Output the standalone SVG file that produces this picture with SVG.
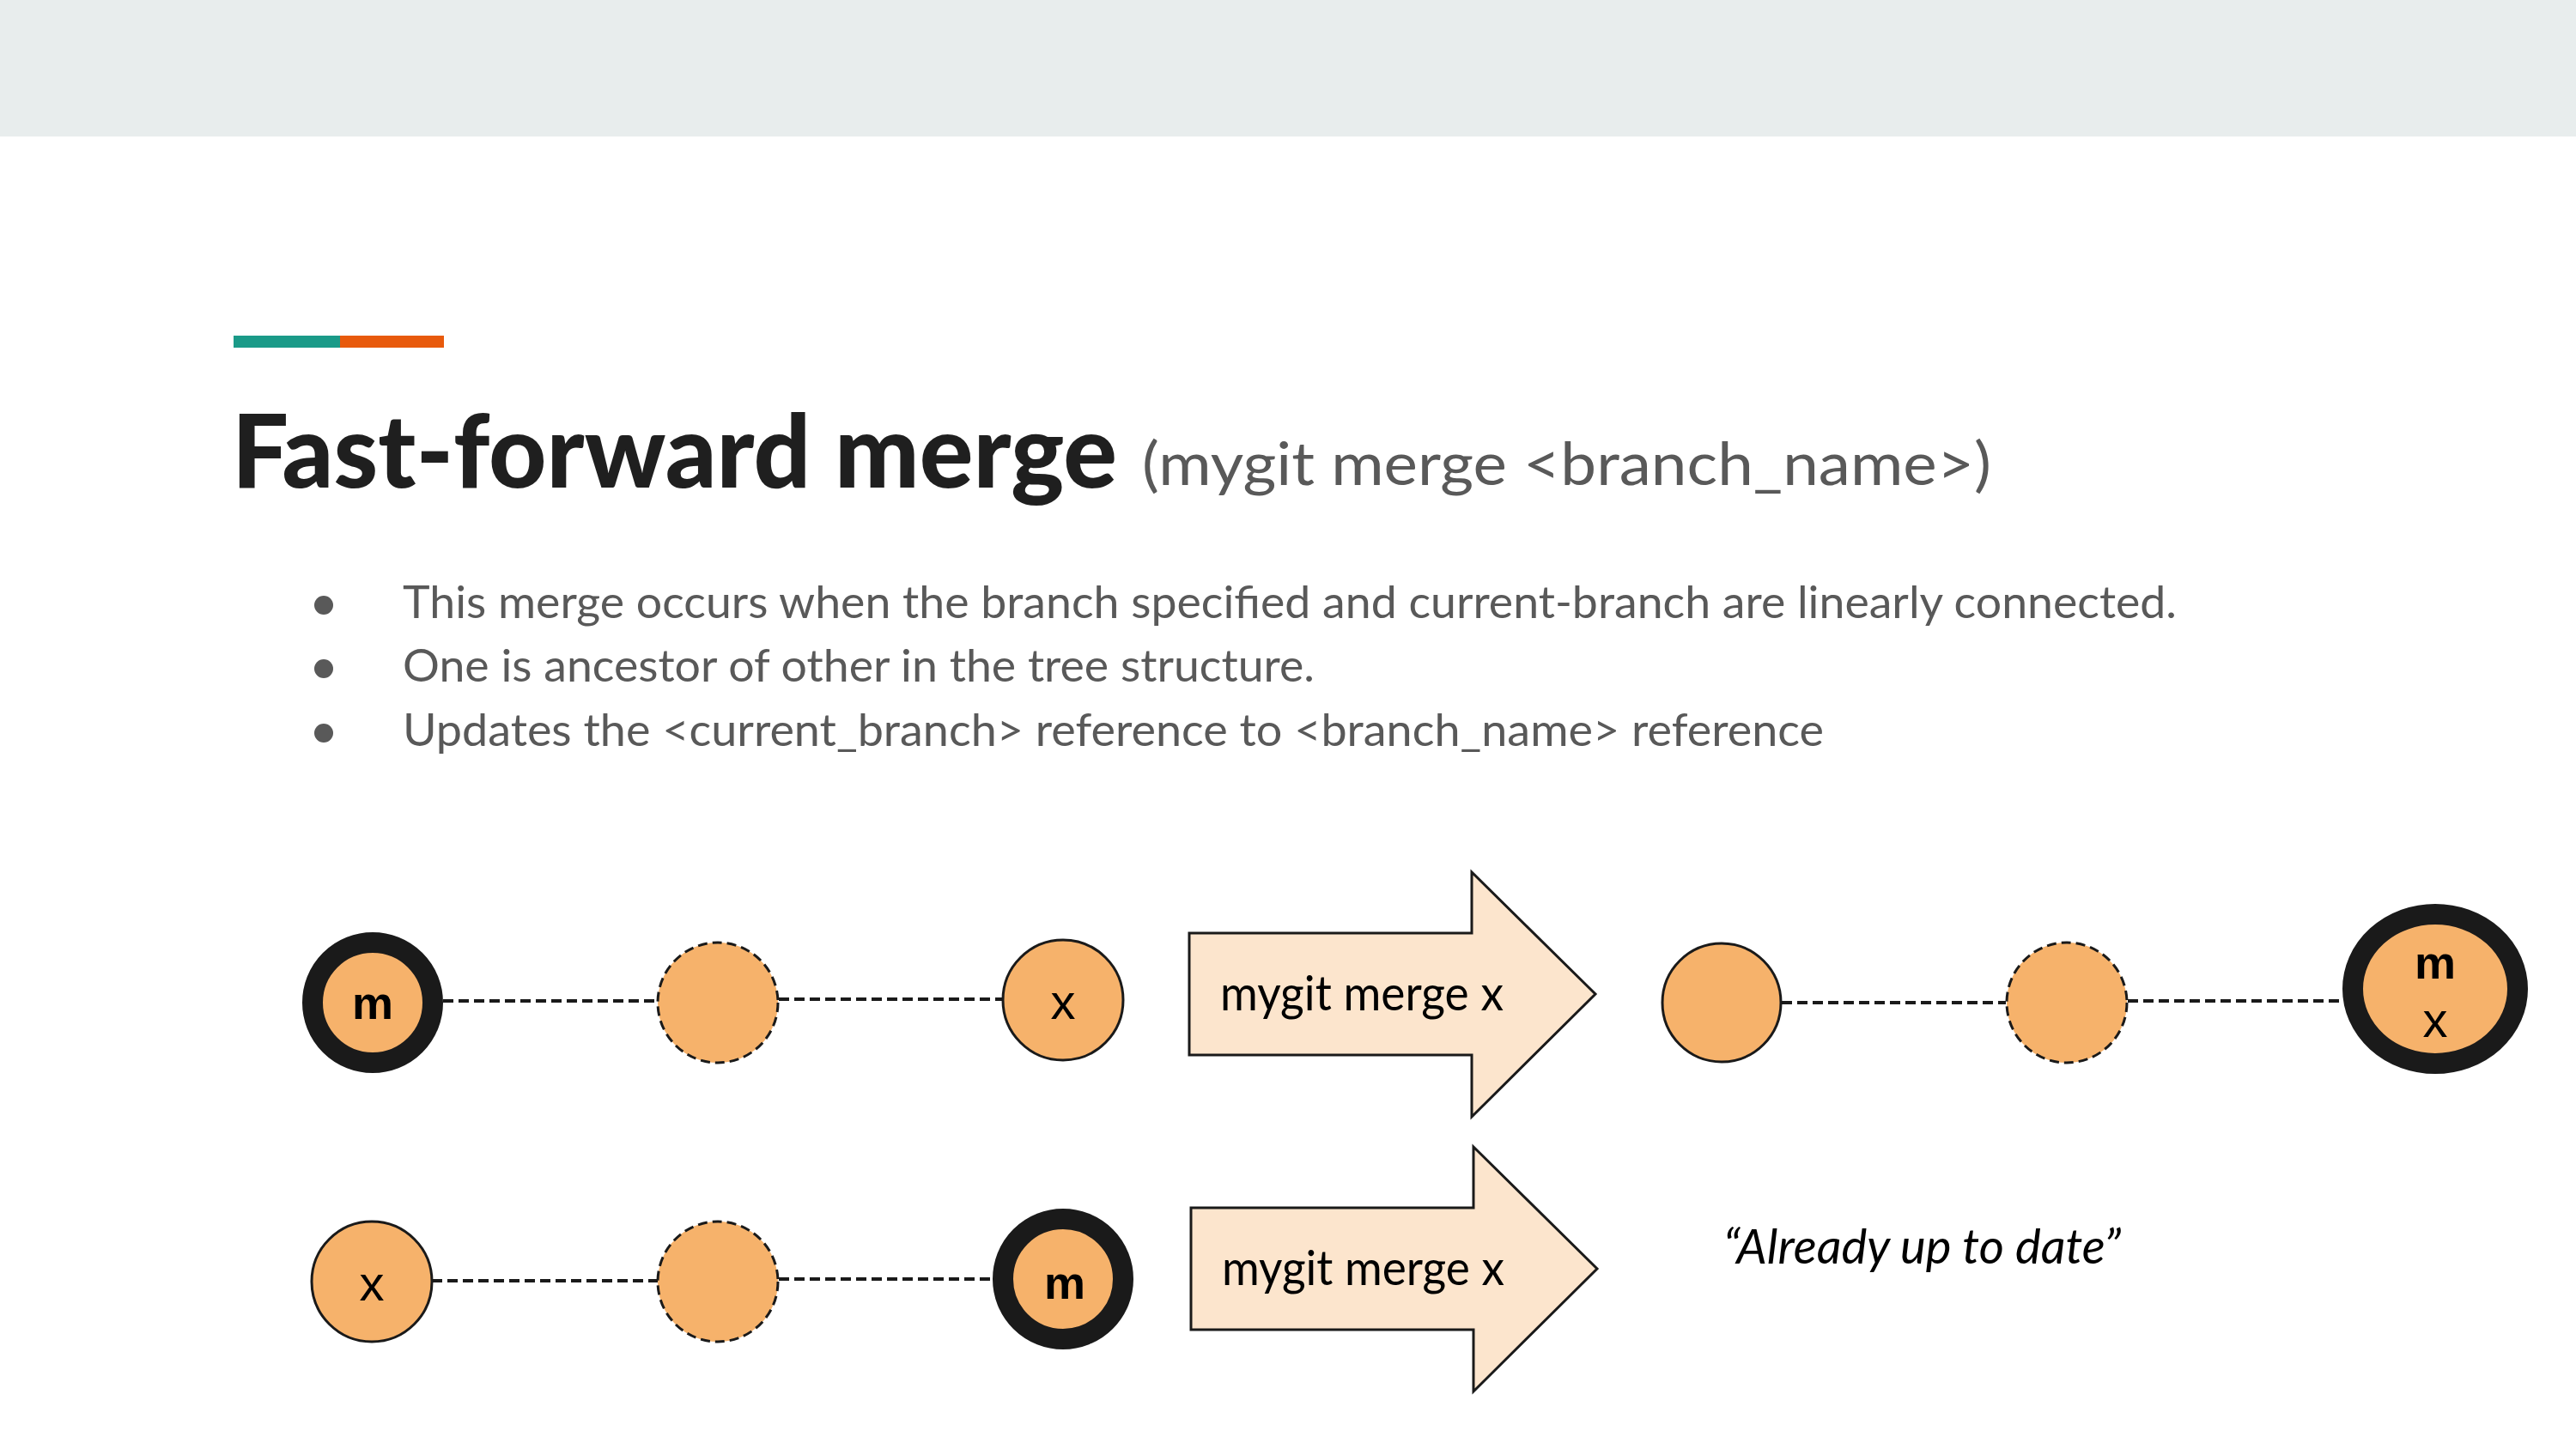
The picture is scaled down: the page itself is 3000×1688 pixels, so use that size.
<svg xmlns="http://www.w3.org/2000/svg" width="3000" height="1688" viewBox="0 0 3000 1688">
  <style>
    .title { font-family: Lato, "Liberation Sans", sans-serif; font-weight: 900; font-size: 118px; fill: #1f1f1f; }
    .sub { font-family: Lato, "Liberation Sans", sans-serif; font-size: 70px; fill: #595959; }
    .bullet { font-family: Lato, "Liberation Sans", sans-serif; font-size: 52px; fill: #595959; }
    .cmd { font-family: Lato, "Liberation Sans", sans-serif; font-size: 56px; fill: #000; }
    .note { font-family: Lato, "Liberation Sans", sans-serif; font-style: italic; font-size: 56px; fill: #000; }
    .lbl { font-family: "Liberation Sans", Arial, sans-serif; font-size: 58px; fill: #000; text-anchor: middle; }
    .lbl.b { font-weight: bold; font-size: 54px; }
    .commit { fill: #F6B26B; stroke: #1a1a1a; stroke-width: 3; }
    .commit.dashed { stroke-dasharray: 11 6; }
    .head { fill: #F6B26B; stroke: #1a1a1a; stroke-width: 24; }
    .edge { stroke: #1a1a1a; stroke-width: 4; stroke-dasharray: 12 6; fill: none; }
    .arrow { fill: #FCE5CD; stroke: #1a1a1a; stroke-width: 3; stroke-linejoin: miter; }
  </style>

  <!-- header band -->
  <rect x="0" y="0" width="3000" height="159" fill="#E8EDED"/>

  <!-- accent bar -->
  <rect x="272" y="391" width="124" height="14" fill="#1A9A88"/>
  <rect x="396" y="391" width="121" height="14" fill="#E85A0C"/>

  <!-- title -->
  <text class="title" x="270" y="568" textLength="1031" lengthAdjust="spacingAndGlyphs">Fast-forward merge</text>
  <text class="sub" x="1330" y="565" textLength="989" lengthAdjust="spacingAndGlyphs">(mygit merge &lt;branch_name&gt;)</text>

  <!-- bullet list -->
  <g id="bullets">
    <circle cx="377" cy="705" r="11" fill="#595959"/>
    <circle cx="377" cy="779" r="11" fill="#595959"/>
    <circle cx="377" cy="854" r="11" fill="#595959"/>
    <text class="bullet" x="469" y="720" textLength="2066" lengthAdjust="spacingAndGlyphs">This merge occurs when the branch specified and current-branch are linearly connected.</text>
    <text class="bullet" x="469" y="794" textLength="1062" lengthAdjust="spacingAndGlyphs">One is ancestor of other in the tree structure.</text>
    <text class="bullet" x="469" y="869" textLength="1655" lengthAdjust="spacingAndGlyphs">Updates the &lt;current_branch&gt; reference to &lt;branch_name&gt; reference</text>
  </g>

  <!-- connectors -->
  <g id="connectors">
    <line class="edge" x1="516" y1="1166" x2="766" y2="1166"/>
    <line class="edge" x1="907" y1="1164" x2="1167" y2="1164"/>
    <line class="edge" x1="2075" y1="1168" x2="2336" y2="1168"/>
    <line class="edge" x1="2478" y1="1166" x2="2727" y2="1166"/>
    <line class="edge" x1="503" y1="1492" x2="766" y2="1492"/>
    <line class="edge" x1="907" y1="1490" x2="1156" y2="1490"/>
  </g>

  <!-- row 1: before -->
  <g id="r1-m">
    <circle class="head" cx="434" cy="1168" r="70"/>
    <text class="lbl b" x="434" y="1187">m</text>
  </g>
  <g id="r1-mid">
    <circle class="commit dashed" cx="836" cy="1168" r="70"/>
  </g>
  <g id="r1-x">
    <circle class="commit" cx="1238" cy="1165" r="70"/>
    <text class="lbl" x="1238" y="1187">x</text>
  </g>

  <g id="r1-cmd">
    <polygon class="arrow" points="1385,1087 1714,1087 1714,1016 1858,1158 1714,1301 1714,1229 1385,1229"/>
    <text class="cmd" x="1421" y="1177" textLength="330" lengthAdjust="spacingAndGlyphs">mygit merge x</text>
  </g>

  <!-- row 1: after -->
  <g id="r1-a">
    <circle class="commit" cx="2005" cy="1168" r="69"/>
  </g>
  <g id="r1-b">
    <circle class="commit dashed" cx="2407" cy="1168" r="70"/>
  </g>
  <g id="r1-mx">
    <ellipse class="head" cx="2836" cy="1152" rx="96" ry="87"/>
    <text class="lbl b" x="2836" y="1140">m</text>
    <text class="lbl" x="2836" y="1208">x</text>
  </g>

  <!-- row 2 -->
  <g id="r2-x">
    <circle class="commit" cx="433" cy="1493" r="70"/>
    <text class="lbl" x="433" y="1515">x</text>
  </g>
  <g id="r2-mid">
    <circle class="commit dashed" cx="836" cy="1493" r="70"/>
  </g>
  <g id="r2-m">
    <circle class="head" cx="1238" cy="1490" r="70"/>
    <text class="lbl b" x="1240" y="1513">m</text>
  </g>

  <g id="r2-cmd">
    <polygon class="arrow" points="1387,1407 1716,1407 1716,1336 1860,1478 1716,1621 1716,1549 1387,1549"/>
    <text class="cmd" x="1423" y="1497" textLength="329" lengthAdjust="spacingAndGlyphs">mygit merge x</text>
  </g>

  <g id="r2-note">
    <text class="note" x="2007" y="1472" textLength="463" lengthAdjust="spacingAndGlyphs">“Already up to date”</text>
  </g>
</svg>
